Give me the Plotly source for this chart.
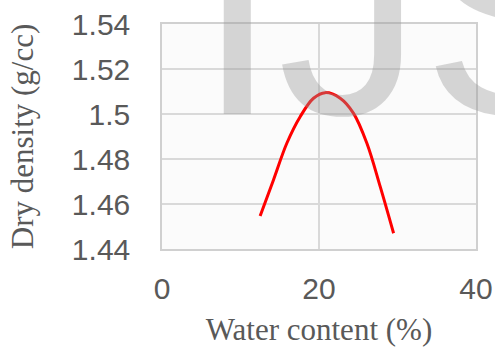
import plotly.graph_objects as go

water_content = [12.5, 14.2, 15.9, 17.6, 19.3, 20.8, 22.7, 24.4, 26.1, 27.8, 29.5]
dry_density = [1.4547, 1.4707, 1.487, 1.4988, 1.507, 1.5095, 1.507, 1.5003, 1.487, 1.4677, 1.447]

y_tick_vals = [1.44, 1.46, 1.48, 1.50, 1.52, 1.54]
y_tick_text = ["1.44", "1.46", "1.48", "1.5", "1.52", "1.54"]
x_tick_vals = [0, 20, 40]
x_tick_text = ["0", "20", "40"]

fig = go.Figure()
fig.add_trace(go.Scatter(
    x=water_content, y=dry_density, mode="lines",
    line=dict(color="#ff0000", width=3, shape="spline", smoothing=1.0),
    showlegend=False, hoverinfo="skip"))

tick_font = dict(family="Liberation Sans, Arial, sans-serif", size=30, color="#595959")
title_font = dict(family="Liberation Serif, Times New Roman, serif", size=31, color="#595959")

fig.update_xaxes(
    range=[0, 40], tickvals=x_tick_vals, ticktext=x_tick_text,
    showgrid=True, gridcolor="#d9d9d9", gridwidth=1.5,
    showline=True, linecolor="#d0d0d0", linewidth=1.5, mirror=True,
    zeroline=False, ticks="", tickfont=tick_font, ticklabelstandoff=12,
    automargin=False,
    title=dict(text="Water content (%)", font=title_font, standoff=15))
fig.update_yaxes(
    range=[1.44, 1.54], tickvals=y_tick_vals, ticktext=y_tick_text,
    showgrid=True, gridcolor="#d9d9d9", gridwidth=1.5,
    showline=True, linecolor="#d0d0d0", linewidth=1.5, mirror=True,
    zeroline=False, ticks="", tickfont=tick_font, ticklabelstandoff=24,
    automargin=False,
    title=dict(text="Dry density (g/cc)", font=title_font, standoff=29))

fig.add_annotation(
    text="IJS", xref="paper", yref="paper", x=0.105, y=0.32,
    xanchor="left", yanchor="bottom", showarrow=False,
    font=dict(family="Liberation Sans, Arial, sans-serif", size=290,
              color="rgba(150,150,150,0.38)"))

fig.update_layout(
    width=495, height=347,
    margin=dict(l=162, r=19, t=24, b=98, autoexpand=False),
    plot_bgcolor="#fbfbfb", paper_bgcolor="white")

fig.write_html("out.html", config={"displayModeBar": False},
               post_script="document.body.style.margin='0px';document.body.style.overflow='hidden';")
